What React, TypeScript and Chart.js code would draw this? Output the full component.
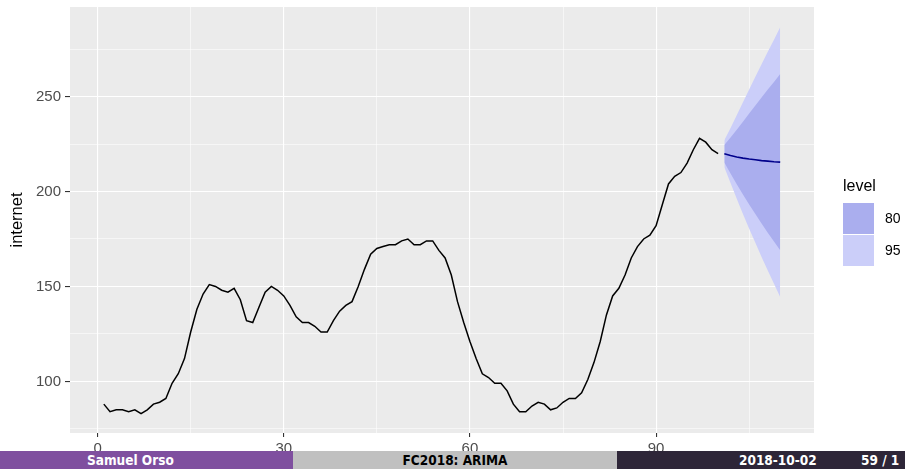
import React, { useEffect, useRef } from "react";
import { Chart, registerables } from "chart.js";

Chart.register(...registerables);

// Internet usage per minute (observed), minutes 1..100
const internet = [
  88, 84, 85, 85, 84, 85, 83, 85, 88, 89,
  91, 99, 104, 112, 126, 138, 146, 151, 150, 148,
  147, 149, 143, 132, 131, 139, 147, 150, 148, 145,
  140, 134, 131, 131, 129, 126, 126, 132, 137, 140,
  142, 150, 159, 167, 170, 171, 172, 172, 174, 175,
  172, 172, 174, 174, 169, 165, 156, 142, 131, 121,
  112, 104, 102, 99, 99, 95, 88, 84, 84, 87,
  89, 88, 85, 86, 89, 91, 91, 94, 101, 110,
  121, 135, 145, 149, 156, 165, 171, 175, 177, 182,
  193, 204, 208, 210, 215, 222, 228, 226, 222, 220,
];

// ARIMA forecast, minutes 101..110
const forecastMinutes = [101, 102, 103, 104, 105, 106, 107, 108, 109, 110];
const pointForecast = [219.9, 219.0, 218.2, 217.6, 217.1, 216.7, 216.3, 216.0, 215.7, 215.5];
const lo80 = [215.3, 209.5, 203.8, 198.4, 193.1, 188.1, 183.1, 178.3, 173.7, 169.1];
const hi80 = [224.5, 228.5, 232.6, 236.8, 241.1, 245.3, 249.5, 253.7, 257.7, 261.9];
const lo95 = [212.8, 204.5, 196.2, 188.2, 180.4, 173.0, 165.5, 158.4, 151.4, 144.5];
const hi95 = [227.0, 233.5, 240.2, 247.0, 253.8, 260.4, 267.1, 273.6, 280.0, 286.5];

// Axis breaks (major ones are labelled, minor ones only get a thin grid line)
const xBreaks = [0, 15, 30, 45, 60, 75, 90, 105];
const xMajor = [0, 30, 60, 90];
const yBreaks = [75, 100, 125, 150, 175, 200, 225, 250, 275];
const yMajor = [100, 150, 200, 250];

const levelLabels = ["80", "95"];
const levelColors = ["#AAAEEE", "#CBCEF9"];

const FONT = "'Liberation Sans', Arial, Helvetica, sans-serif";

const panelBackground = {
  id: "panelBackground",
  beforeDraw(chart: any) {
    const { ctx, chartArea } = chart;
    ctx.save();
    ctx.fillStyle = "#EBEBEB";
    ctx.fillRect(chartArea.left, chartArea.top, chartArea.right - chartArea.left, chartArea.bottom - chartArea.top);
    ctx.restore();
  },
};

function series(xs: number[], ys: number[]) {
  return ys.map((y, i) => ({ x: xs[i], y }));
}

export default function App() {
  const ref = useRef<HTMLCanvasElement>(null);

  useEffect(() => {
    const history = internet.map((y, i) => ({ x: i + 1, y }));
    const line = { pointRadius: 0, tension: 0, fill: false as any };
    const chart = new Chart(ref.current as HTMLCanvasElement, {
      type: "line",
      data: {
        datasets: [
          { ...line, data: history, borderColor: "#000000", borderWidth: 1.5 },
          { ...line, data: series(forecastMinutes, pointForecast), borderColor: "#00008B", borderWidth: 1.6 },
          { ...line, data: series(forecastMinutes, hi80), borderWidth: 0, borderColor: "rgba(0,0,0,0)", fill: "+1", backgroundColor: levelColors[0] },
          { ...line, data: series(forecastMinutes, lo80), borderWidth: 0, borderColor: "rgba(0,0,0,0)" },
          { ...line, data: series(forecastMinutes, hi95), borderWidth: 0, borderColor: "rgba(0,0,0,0)", fill: "+1", backgroundColor: levelColors[1] },
          { ...line, data: series(forecastMinutes, lo95), borderWidth: 0, borderColor: "rgba(0,0,0,0)" },
        ],
      },
      options: {
        animation: false,
        responsive: false,
        devicePixelRatio: 1,
        layout: { padding: { top: 7, right: 91, left: 0, bottom: 0 } },
        plugins: { legend: { display: false }, tooltip: { enabled: false } },
        scales: {
          x: {
            type: "linear",
            min: -4.45,
            max: 115.45,
            afterBuildTicks: (s: any) => {
              s.ticks = xBreaks.map((value) => ({ value }));
            },
            afterFit: (s: any) => {
              s.height = 36;
              s.paddingLeft = 0;
              s.paddingRight = 0;
            },
            border: { display: false },
            grid: {
              color: "#FFFFFF",
              lineWidth: (c: any) => (xMajor.includes(c.tick?.value) ? 1.1 : 0.55),
              tickColor: (c: any) => (xMajor.includes(c.tick?.value) ? "#333333" : "rgba(0,0,0,0)"),
              tickWidth: 1.1,
              tickLength: 4,
            },
            ticks: {
              autoSkip: false,
              maxRotation: 0,
              padding: 3,
              color: "#4D4D4D",
              font: { family: FONT, size: 15 },
              callback: (v: any) => (xMajor.includes(Number(v)) ? String(v) : ""),
            },
          },
          y: {
            type: "linear",
            min: 72.8,
            max: 297.2,
            afterBuildTicks: (s: any) => {
              s.ticks = yBreaks.map((value) => ({ value }));
            },
            afterFit: (s: any) => {
              s.width = 70;
              s.paddingTop = 0;
              s.paddingBottom = 0;
            },
            border: { display: false },
            grid: {
              color: "#FFFFFF",
              lineWidth: (c: any) => (yMajor.includes(c.tick?.value) ? 1.1 : 0.55),
              tickColor: (c: any) => (yMajor.includes(c.tick?.value) ? "#333333" : "rgba(0,0,0,0)"),
              tickWidth: 1.1,
              tickLength: 5,
            },
            ticks: {
              autoSkip: false,
              padding: 4,
              color: "#4D4D4D",
              font: { family: FONT, size: 15 },
              callback: (v: any) => (yMajor.includes(Number(v)) ? String(v) : ""),
            },
            title: {
              display: true,
              text: "internet",
              color: "#000000",
              font: { family: FONT, size: 16.5 },
              padding: { top: 8, bottom: 0 },
            },
          },
        },
      },
      plugins: [panelBackground],
    } as any);
    return () => chart.destroy();
  }, []);

  const bannerText: React.CSSProperties = {
    position: "absolute",
    top: 0,
    height: 18,
    lineHeight: "18px",
    fontFamily: "'DejaVu Sans Condensed', 'DejaVu Sans', sans-serif",
    fontStretch: "condensed",
    fontWeight: "bold",
    fontSize: 13.5,
    whiteSpace: "nowrap",
  };

  return (
    <div style={{ position: "fixed", left: 0, top: 0, width: 905, height: 469, background: "#FFFFFF", overflow: "hidden" }}>
      <canvas ref={ref} width={905} height={469} style={{ position: "absolute", left: 0, top: 0, width: 905, height: 469 }} />

      {/* legend */}
      <div style={{ position: "absolute", left: 843, top: 178, fontFamily: FONT, fontSize: 16, lineHeight: "16px", color: "#000" }}>level</div>
      {levelLabels.map((lab, i) => (
        <React.Fragment key={lab}>
          <div style={{ position: "absolute", left: 843, top: 203 + i * 32, width: 31, height: 31, background: levelColors[i] }} />
          <div style={{ position: "absolute", left: 885, top: 203 + i * 32, height: 31, lineHeight: "31px", fontFamily: FONT, fontSize: 14, color: "#000" }}>{lab}</div>
        </React.Fragment>
      ))}

      {/* footline */}
      <div style={{ position: "absolute", left: 0, top: 451, width: 905, height: 18 }}>
        <div style={{ position: "absolute", left: 0, top: 0, width: 293, height: 18, background: "#7F4F9F" }}>
          <span style={{ ...bannerText, left: 87, color: "#FFFFFF" }}>Samuel Orso</span>
        </div>
        <div style={{ position: "absolute", left: 293, top: 0, width: 324, height: 18, background: "#C0C0C0" }}>
          <span style={{ ...bannerText, left: 0, width: 324, textAlign: "center", color: "#000000" }}>FC2018: ARIMA</span>
        </div>
        <div style={{ position: "absolute", left: 617, top: 0, width: 288, height: 18, background: "#2E2638", overflow: "hidden" }}>
          <span style={{ ...bannerText, left: 122, color: "#FFFFFF" }}>2018-10-02</span>
          <span style={{ ...bannerText, left: 244, color: "#FFFFFF" }}>59 / 1</span>
        </div>
      </div>
    </div>
  );
}
